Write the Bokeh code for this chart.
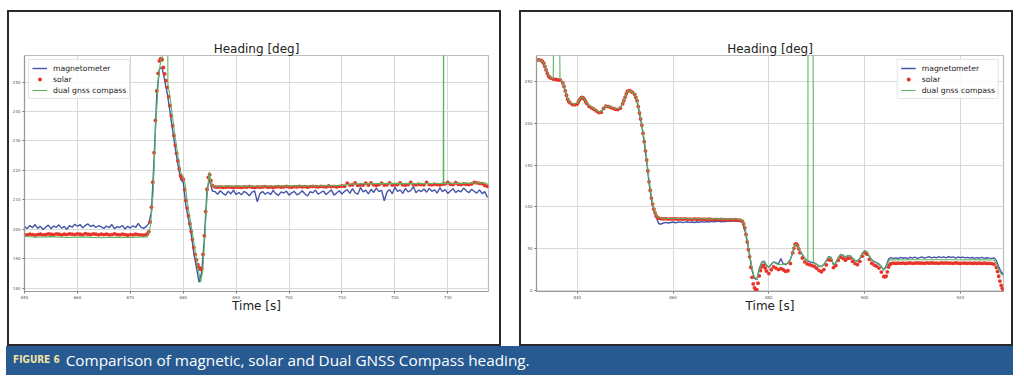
import numpy as np
from bokeh.plotting import figure
from bokeh.layouts import column, row
from bokeh.models import Div, Spacer, Legend, LegendItem, FixedTicker, Range1d
from bokeh.embed import file_html
from bokeh.resources import INLINE

# ---------------- LEFT PANEL DATA ----------------
left_t0, left_dt = 650.0, 0.5
left_mag = [
    201.0, 200.2, 201.3, 200.5, 201.6, 200.3, 201.0, 199.9, 200.7, 201.4,
    200.2, 201.1, 200.6, 201.5, 200.4, 200.9, 200.0, 201.2, 200.7, 201.7,
    201.0, 201.6, 200.5, 201.3, 201.8, 200.9, 201.4, 200.6, 201.2, 200.8,
    200.3, 201.1, 200.5, 201.6, 200.2, 200.9, 200.6, 201.3, 200.1, 201.0,
    200.4, 201.2, 200.6, 202.0, 200.7, 200.3, 200.9, 202.0, 206.0, 224.0,
    245.5, 254.5, 255.0, 250.5, 246.0, 240.0, 233.5, 227.5, 222.0, 217.0,
    216.0, 208.0, 203.5, 198.5, 192.0, 187.0, 182.0, 185.5, 197.0, 213.5,
    217.0, 213.0,
    212.8, 211.9, 213.1, 212.2, 211.6, 212.9, 212.0, 213.3, 211.8, 212.5,
    211.7, 212.9, 212.3, 211.4, 212.6, 213.0, 209.3, 212.2, 212.8, 211.9,
    212.6, 211.8, 213.2, 212.1, 211.5, 212.7, 212.3, 213.0, 211.6, 212.4,
    212.9, 211.7, 212.2, 213.1, 212.0, 211.3, 212.8, 212.4, 213.3, 211.9,
    212.5, 213.0, 211.8, 212.6, 213.4, 211.6, 212.3, 213.1, 212.0, 212.9,
    213.5, 212.2, 213.8, 212.4, 211.9, 214.2, 212.7, 213.3, 212.0, 213.6,
    212.5, 214.0, 212.8, 213.2, 209.7, 212.6, 213.5, 212.1, 214.3, 212.9,
    213.4, 212.2, 213.9, 212.7, 213.1, 214.5, 212.4, 213.3, 212.8, 213.7,
    212.6, 213.9, 212.9, 213.4, 212.3, 214.1, 212.8, 213.5, 212.2, 213.0,
    213.8, 212.5, 213.2, 212.7, 214.0, 213.1, 212.4, 213.6, 212.9, 212.3,
    213.4, 212.1, 212.8, 210.8,
]
left_solar = [
    198.2, 198.1, 198.3, 198.2, 198.0, 198.2, 198.3, 198.1, 198.2, 198.4,
    198.3, 198.2, 198.4, 198.3, 198.1, 198.3, 198.2, 198.4, 198.3, 198.2,
    198.4, 198.3, 198.2, 198.5, 198.3, 198.2, 198.4, 198.3, 198.1, 198.3,
    198.2, 198.3, 198.1, 198.2, 198.4, 198.2, 198.1, 198.3, 198.2, 198.0,
    198.2, 198.1, 198.3, 198.2, 198.1, 198.0, 198.2, 199.2, 207.5, 226.0,
    247.0, 257.2, 257.6, 252.8, 248.2, 242.0, 235.2, 228.6, 223.2, 218.2,
    217.0, 209.8, 204.6, 199.2, 193.8, 189.6, 187.0, 186.6, 197.8, 213.6,
    218.6, 214.9, 214.4, 214.3, 214.4, 214.2, 214.3, 214.4, 214.3, 214.2,
    214.4, 214.3, 214.2, 214.4, 214.3, 214.5, 214.3, 214.2, 214.4, 214.3,
    214.4, 214.5, 214.3, 214.4, 214.2, 214.4, 214.5, 214.3, 214.4, 214.6,
    214.4, 214.3, 214.5, 214.4, 214.6, 214.4, 214.5, 214.3, 214.5, 214.6,
    214.5, 214.4, 214.6, 214.5, 214.4, 214.7, 214.5, 214.6, 214.4, 214.6,
    214.7, 214.6, 215.7, 215.0, 215.1, 215.8, 214.9, 215.1, 215.0, 215.7,
    215.0, 215.8, 215.1, 214.9, 215.2, 215.7, 215.0, 215.1, 215.8, 215.0,
    215.1, 215.2, 215.8, 215.1, 215.0, 215.2, 215.9, 215.2, 215.1, 215.3,
    215.2, 215.1, 215.9, 215.2, 215.1, 215.3, 215.2, 215.1, 215.3, 215.4,
    215.9, 215.3, 215.2, 215.8, 215.3, 215.2, 215.4, 215.3, 215.2, 215.4,
    215.9, 215.8, 215.6, 215.5, 214.9, 214.6,
]
# extra solar samples read along the fast manoeuvre
left_solar_extra_t = [
    673.25, 673.75, 674.25, 674.75, 675.25, 675.75, 676.25, 676.75, 677.25, 677.75,
    678.25, 678.75, 679.25, 679.75, 680.25, 680.75, 681.25, 681.75, 682.25, 682.75,
    683.25, 683.75, 684.25, 684.75, 685.25,
]
left_solar_extra = [
    198.4, 202.5, 216.0, 237.0, 253.0, 258.0, 255.0, 250.5, 245.0, 238.6,
    231.8, 225.8, 220.5, 217.5, 213.5, 207.2, 201.9, 196.5, 191.5, 188.0,
    186.4, 191.5, 206.0, 217.6, 216.5,
]
left_gnss_t = [
    650.0, 652.0, 655.0, 658.0, 661.0, 664.0, 667.0, 670.0, 673.2, 673.8,
    674.3, 674.8, 675.3, 675.8, 676.05, 676.1, 677.05, 677.1, 677.5, 678.0,
    678.5, 679.0, 679.5, 680.0, 680.3, 680.8, 681.3, 681.8, 682.3, 682.8,
    683.3, 683.7, 684.1, 684.5, 684.9, 685.3, 686.0, 690.0, 695.0, 700.0,
    705.0, 710.0, 712.0, 716.0, 720.0, 724.0, 729.15, 729.2, 729.25, 733.0,
    737.0, 737.6,
]
left_gnss = [
    197.6, 197.3, 197.5, 197.2, 197.4, 197.1, 197.3, 197.2, 197.4, 201.0,
    212.0, 235.0, 251.0, 258.0, 258.6, 300.0, 300.0, 249.5, 245.0, 238.0,
    231.0, 225.0, 219.5, 217.5, 216.0, 209.0, 203.5, 198.0, 192.0, 186.5,
    182.0, 186.0, 198.0, 211.0, 219.5, 215.0, 214.6, 214.7, 214.6, 214.8,
    214.7, 214.9, 215.4, 215.5, 215.6, 215.5, 215.6, 300.0, 215.6, 215.6,
    215.8, 215.2,
]

# ---------------- RIGHT PANEL DATA ----------------
right_t0, right_dt = 831.5, 0.5
right_mag = [
    275.3, 275.6, 274.8, 271.2, 263.4, 256.2, 253.6, 252.4, 252.1, 251.5,
    251.2, 247.6, 238.2, 228.4, 224.2, 222.8, 222.6, 223.4, 228.2, 231.2,
    228.3, 223.2, 220.4, 218.6, 217.2, 215.3, 213.4, 213.8, 218.2, 220.6,
    220.2, 219.2, 218.1, 217.2, 216.8, 218.4, 223.8, 231.6, 238.2, 238.6,
    236.8, 233.8, 226.2, 211.6, 196.4, 176.8, 154.6, 128.4, 109.2, 96.2,
    87.6, 80.2, 79.4, 80.9, 81.6, 80.8, 81.4, 82.0, 81.2, 81.7,
    82.2, 81.3, 81.9, 82.4, 81.6, 82.1, 81.5, 82.3, 81.8, 82.5,
    81.9, 82.6, 82.0, 82.8, 82.2, 82.7, 83.1, 82.4, 83.0, 82.6,
    83.2, 82.8, 83.4, 82.9, 83.1, 82.6, 81.8, 72.5, 58.4, 41.6,
    24.2, 14.6, 13.2, 25.8, 33.8, 35.2, 30.4, 27.6, 31.2, 34.4,
    33.2, 31.6, 38.4, 32.2, 31.0, 33.4, 37.2, 45.4, 55.8, 54.0,
    47.6, 43.2, 38.6, 35.8, 34.6, 33.6, 33.2, 31.4, 29.2, 28.8,
    31.2, 35.8, 40.6, 39.8, 30.8, 33.2, 39.4, 43.2, 42.2, 39.8,
    41.8, 41.6, 38.6, 36.2, 35.0, 38.4, 44.2, 47.8, 46.2, 40.8,
    36.8, 34.8, 33.4, 31.8, 28.6, 24.6, 29.2, 37.6, 39.4, 38.6,
    39.2, 38.4, 39.8, 38.7, 39.5, 38.3, 39.9, 38.8, 40.1, 38.6,
    39.4, 40.2, 38.9, 39.7, 40.5, 39.1, 40.0, 39.3, 40.6, 39.5,
    40.3, 39.2, 40.8, 39.6, 40.4, 39.0, 40.2, 39.4, 40.0, 39.1,
    39.8, 38.9, 39.6, 38.6, 39.4, 38.8, 39.7, 38.5, 39.3, 38.9,
    38.6, 39.2, 36.2, 28.4, 22.6, 19.2,
]
right_solar = [
    275.6, 275.8, 275.2, 271.8, 263.8, 256.6, 254.0, 252.8, 252.4, 251.8,
    251.4, 248.2, 238.8, 228.8, 224.4, 222.4, 222.2, 223.0, 228.0, 231.0,
    228.6, 223.6, 220.2, 218.4, 216.8, 214.8, 212.8, 213.2, 217.8, 220.4,
    220.0, 219.0, 217.8, 216.8, 216.4, 218.0, 223.4, 231.2, 238.4, 239.0,
    237.2, 234.4, 227.0, 212.4, 197.6, 178.0, 156.2, 130.0, 110.6, 97.4,
    89.2, 86.6, 86.0, 85.8, 86.0, 85.6, 85.9, 85.7, 85.8, 85.5,
    85.7, 85.4, 85.8, 85.5, 85.6, 85.3, 85.7, 85.4, 85.5, 85.2,
    85.4, 85.1, 85.5, 85.2, 85.0, 85.3, 84.9, 85.1, 84.8, 85.0,
    84.7, 84.9, 84.5, 84.8, 84.4, 84.2, 82.8, 75.0, 58.2, 40.4,
    16.0, 3.4, 1.2, 17.6, 28.4, 30.6, 23.4, 20.4, 25.0, 28.4,
    27.0, 25.2, 26.4, 25.0, 23.2, 23.8, 32.6, 45.2, 55.4, 54.0,
    45.4, 39.0, 34.4, 32.0, 31.0, 30.0, 29.0, 26.8, 24.0, 22.6,
    25.2, 30.8, 36.8, 36.4, 27.6, 30.0, 36.2, 40.0, 38.6, 36.4,
    38.6, 39.0, 35.0, 32.4, 31.2, 35.0, 41.2, 45.6, 43.6, 37.4,
    32.8, 30.6, 29.2, 27.0, 22.2, 17.0, 17.4, 28.2, 32.4, 32.8,
    32.6, 32.9, 32.7, 33.0, 32.6, 32.8, 33.1, 32.7, 32.9, 33.2,
    32.8, 33.0, 32.7, 33.1, 32.9, 33.2, 32.8, 33.0, 32.7, 33.1,
    32.9, 33.2, 32.8, 33.0, 32.7, 33.1, 32.9, 32.6, 33.0, 32.8,
    32.7, 33.0, 32.6, 32.9, 32.5, 32.8, 32.6, 32.9, 32.5, 32.7,
    32.4, 31.6, 27.8, 17.2, 6.4, 0.6,
]
right_solar_extra_t = [
    832.75, 833.25, 833.75, 834.25, 837.25, 837.75, 838.25, 840.25, 840.75, 841.25,
    841.75, 849.75, 850.25, 852.25, 852.75, 853.25, 853.75, 854.25, 854.75, 855.25,
    855.75, 856.25, 856.75, 874.75, 875.25, 875.75, 876.25, 876.75, 877.25, 877.75,
    878.25, 878.75, 879.25, 885.25, 885.75, 886.25, 904.25, 904.75, 905.25, 927.75,
    928.25, 928.75,
]
right_solar_extra = [
    273.8, 268.0, 259.8, 255.0, 244.0, 233.5, 225.8, 225.5, 230.0, 230.2,
    225.8, 227.2, 235.2, 231.0, 220.0, 205.0, 188.0, 167.0, 143.0, 120.0,
    103.5, 93.0, 87.5, 79.6, 67.0, 49.0, 28.0, 8.0, 1.0, 9.0,
    24.0, 30.0, 27.0, 50.6, 56.0, 50.0, 16.4, 22.5, 31.0, 23.0,
    11.5, 3.0,
]
right_gnss_t = [
    831.5, 832.5, 833.0, 833.5, 834.0, 834.5, 835.0, 835.05, 836.35, 836.4,
    837.0, 837.5, 838.0, 838.5, 839.0, 840.0, 840.5, 841.0, 841.5, 842.0,
    843.0, 844.0, 844.5, 845.0, 845.5, 846.0, 847.0, 848.0, 849.0, 849.5,
    850.0, 850.5, 851.0, 851.5, 852.0, 852.5, 853.0, 853.5, 854.0, 854.5,
    855.0, 855.5, 856.0, 856.5, 857.0, 858.0, 862.0, 866.0, 870.0, 873.0,
    874.0, 874.5, 875.0, 875.5, 876.0, 876.5, 877.0, 877.5, 878.0, 878.5,
    879.0, 879.5, 880.0, 880.5, 881.0, 882.0, 883.0, 884.0, 884.5, 885.0,
    885.5, 886.0, 886.5, 887.0, 887.5, 888.0, 888.15, 888.2, 889.25, 889.3,
    890.0, 890.5, 891.0, 891.5, 892.0, 892.5, 893.0, 893.5, 894.0, 894.5,
    895.0, 895.5, 896.0, 896.5, 897.0, 897.5, 898.0, 898.5, 899.0, 899.5,
    900.0, 900.5, 901.0, 901.5, 902.0, 903.0, 903.5, 904.0, 904.5, 905.0,
    905.5, 910.0, 915.0, 920.0, 925.0, 927.0, 927.5, 928.0, 928.5, 929.0,
]
right_gnss = [
    275.8, 275.4, 272.0, 264.5, 257.5, 254.5, 253.5, 300.0, 300.0, 252.2,
    249.0, 239.5, 229.5, 225.0, 223.2, 223.6, 228.6, 231.6, 229.0, 224.0,
    219.0, 215.4, 213.4, 213.8, 218.4, 220.8, 219.4, 217.4, 218.2, 223.4,
    231.4, 238.2, 239.0, 237.4, 235.0, 228.0, 214.0, 199.0, 180.0, 158.0,
    132.0, 112.0, 98.5, 90.0, 87.2, 86.4, 86.2, 86.0, 85.8, 85.6,
    85.0, 83.8, 77.0, 61.0, 44.0, 27.0, 16.0, 14.0, 24.0, 33.0,
    34.6, 30.5, 28.0, 31.5, 34.0, 31.0, 31.6, 32.6, 37.0, 46.0,
    55.6, 54.4, 48.0, 43.0, 38.5, 35.8, 35.0, 400.0, 400.0, 33.4,
    31.4, 29.4, 29.0, 31.2, 36.0, 40.6, 40.0, 31.2, 33.4, 39.4,
    43.4, 42.4, 40.0, 41.8, 41.8, 38.8, 36.2, 35.2, 38.6, 44.2,
    47.8, 46.4, 41.0, 37.0, 35.0, 32.0, 29.0, 25.0, 27.0, 35.5,
    36.8, 36.9, 37.0, 37.0, 36.8, 36.6, 33.0, 25.0, 20.0, 18.0,
]

left_xticks = [650, 660, 670, 680, 690, 700, 710, 720, 730]
left_yticks = [180, 190, 200, 210, 220, 230, 240, 250]
right_xticks = [840, 860, 880, 900, 920]
right_yticks = [0, 50, 100, 150, 200, 250]

series_labels = ["magnetometer", "solar", "dual gnss compass"]
title_text = "Heading [deg]"
xlabel_text = "Time [s]"
caption_tag = "FIGURE 6"
caption_text = "Comparison of magnetic, solar and Dual GNSS Compass heading."

BLUE = "#3b4ca2"
RED = "#e8342b"
GREEN = "#5cb65c"


def make_panel(t0, dt, mag, solar, st_extra, s_extra, gt, gv, xr, yr, xticks, yticks,
               width, bl, br, bt, bb, legend_loc):
    p = figure(width=width, height=332, output_backend="svg", toolbar_location=None,
               x_range=Range1d(*xr), y_range=Range1d(*yr),
               min_border_left=bl, min_border_right=br, min_border_top=bt,
               min_border_bottom=bb, margin=0,
               styles={"outline": "2px solid #2a2a2a", "outline-offset": "0px",
                       "overflow": "visible"})
    t = t0 + dt * np.arange(len(mag))
    ts = np.concatenate([t, np.array(st_extra)])
    vs = np.concatenate([np.array(solar), np.array(s_extra)])
    r1 = p.line(t, mag, line_color=BLUE, line_width=1.4, line_alpha=0.95)
    r2 = p.scatter(ts, vs, marker="circle", size=3.8, fill_color=RED,
                   line_color=None)
    r3 = p.line(gt, gv, line_color=GREEN, line_width=1.1)

    p.title.text = title_text
    p.title.align = "center"
    p.title.text_font = "DejaVu Sans"
    p.title.text_font_size = "12px"
    p.title.text_font_style = "normal"
    p.title.text_color = "#222222"
    p.title.standoff = 0

    p.xaxis.axis_label = xlabel_text
    p.xaxis.axis_label_text_font = "DejaVu Sans"
    p.xaxis.axis_label_text_font_size = "12px"
    p.xaxis.axis_label_text_font_style = "normal"
    p.xaxis.axis_label_text_color = "#222222"
    p.xaxis.axis_label_standoff = -3
    p.xaxis.ticker = FixedTicker(ticks=xticks)
    p.yaxis.ticker = FixedTicker(ticks=yticks)
    for ax in (p.xaxis[0], p.yaxis[0]):
        ax.major_label_text_font = "DejaVu Sans"
        ax.major_label_text_font_size = "4px"
        ax.major_label_text_color = "#555555"
        ax.major_tick_out = 2
        ax.major_tick_in = 0
        ax.minor_tick_out = 0
        ax.minor_tick_in = 0
        ax.major_label_standoff = 2
        ax.axis_line_color = "#9a9a9a"
        ax.axis_line_width = 1.2
        ax.major_tick_line_color = "#777777"
    p.grid.grid_line_color = "#d8d8d8"
    p.grid.grid_line_width = 1
    p.outline_line_color = "#bdbdbd"
    p.outline_line_width = 1.2
    p.background_fill_color = "white"
    p.border_fill_color = "white"

    legend = Legend(items=[LegendItem(label=series_labels[0], renderers=[r1]),
                           LegendItem(label=series_labels[1], renderers=[r2]),
                           LegendItem(label=series_labels[2], renderers=[r3])],
                    location=legend_loc, margin=4, padding=3, spacing=1,
                    glyph_width=15, glyph_height=10, label_height=10,
                    label_standoff=6, label_text_font="DejaVu Sans",
                    label_text_font_size="7.7px", label_text_color="#222222",
                    border_line_color="#cccccc", border_line_width=1,
                    background_fill_alpha=0.85)
    p.add_layout(legend)
    return p


# left panel: box 7..500 x 10..345, frame 24..488 x 55..291
p1 = make_panel(left_t0, left_dt, left_mag, left_solar, left_solar_extra_t, left_solar_extra,
                left_gnss_t, left_gnss,
                (650.0, 737.7), (178.85, 259.05), left_xticks, left_yticks,
                490, 15, 11, 43, 53, "top_left")
# right panel: box 519..1012 x 10..345, frame 535..1003 x 54..291
p2 = make_panel(right_t0, right_dt, right_mag, right_solar, right_solar_extra_t, right_solar_extra,
                right_gnss_t, right_gnss,
                (831.5, 929.0), (-1.0, 281.0), right_xticks, right_yticks,
                490, 14, 8, 42, 53, "top_right")

caption_html = (
    '<div style="width:1007px;height:29px;background:#285a92;display:flex;'
    'align-items:center;box-sizing:border-box;padding-left:7px;margin:0;">'
    '<span style="font-family:\'Liberation Sans Narrow\',\'DejaVu Sans Condensed\',sans-serif;'
    'font-weight:bold;color:#f2e2a2;font-size:10px;">' + caption_tag + '</span>'
    '<span style="font-family:\'Open Sans\',sans-serif;color:#ffffff;font-size:15.3px;'
    'margin-left:6px;">' + caption_text + '</span></div>'
)
cap = Div(text=caption_html, width=1007, height=29, margin=0)

layout = column(
    Spacer(height=12, width=10, margin=0),
    row(Spacer(width=9, height=10, margin=0), p1, Spacer(width=22, height=10, margin=0), p2, margin=0),
    Spacer(height=2, width=10, margin=0),
    row(Spacer(width=6, height=10, margin=0), cap, margin=0),
    margin=0,
)

open("out.html", "w").write(file_html(layout, INLINE))
